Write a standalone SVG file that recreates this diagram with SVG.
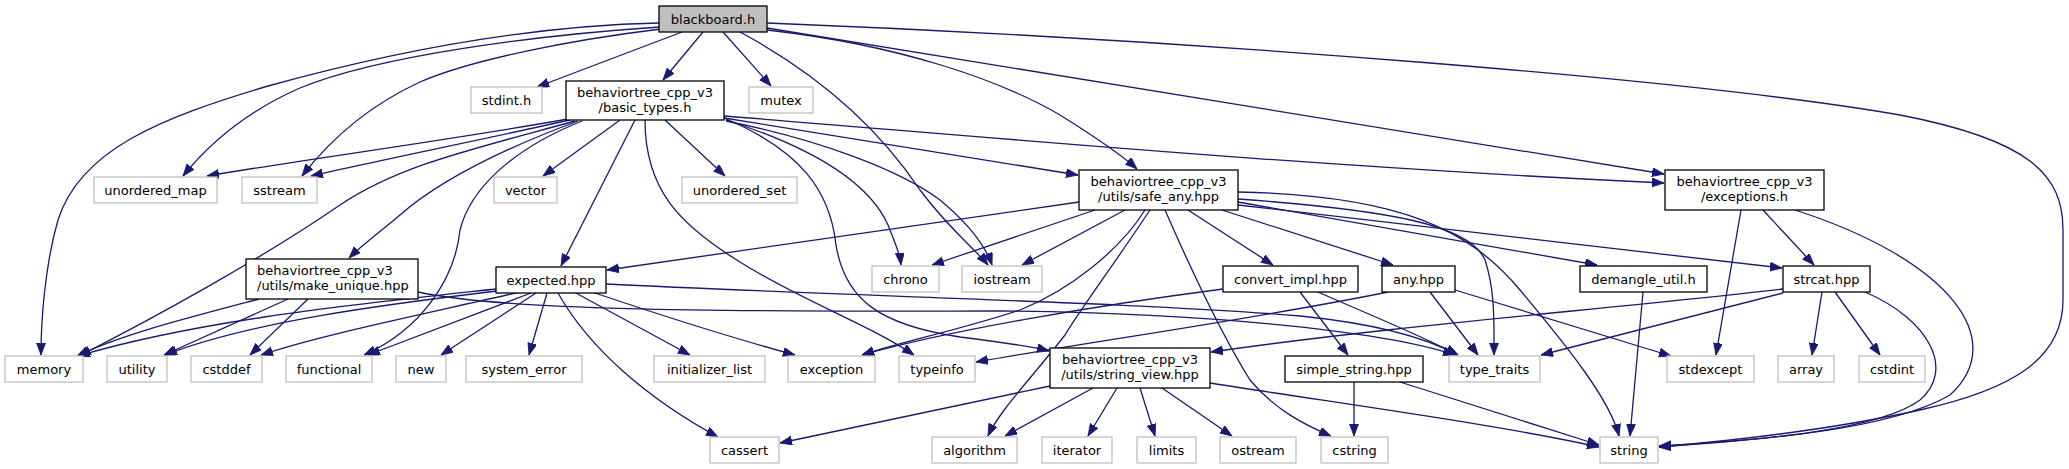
<svg xmlns="http://www.w3.org/2000/svg" width="2069" height="469" viewBox="0 0 2069 469">
<defs>
<marker id="arr" markerUnits="userSpaceOnUse" markerWidth="12" markerHeight="10" refX="12" refY="4.5" orient="auto">
<path d="M0,0 L12,4.5 L0,9 z" fill="#191970" stroke="#191970" stroke-width="0.8"/>
</marker>
</defs>
<style>
.e path{fill:none;stroke:#191970;stroke-width:1.3;marker-end:url(#arr)}
.n rect{fill:#ffffff;stroke:#000000;stroke-width:1.3}
.s rect{fill:#ffffff;stroke:#bfbfbf;stroke-width:1.3}
.m rect{fill:#bfbfbf;stroke:#000000;stroke-width:1.3}
text{font-family:"DejaVu Sans","Liberation Sans",sans-serif;font-size:13px;fill:#000000;text-anchor:middle}
text.l{text-anchor:start}
</style>
<rect x="0" y="0" width="2069" height="469" fill="#ffffff"/>
<g id="edges" class="e">
<!-- blackboard.h -->
<path d="M659,23 C 520,26 380,55 268,86 C 160,118 80,150 58,220 C 45,265 41,320 41,355"/>
<path d="M660,27 C 540,35 380,55 300,88 C 245,112 208,145 183,176"/>
<path d="M661,29 C 570,40 470,60 420,82 C 370,105 330,140 302,176"/>
<path d="M682,32 L537,87"/>
<path d="M703,32 L663,80"/>
<path d="M723,32 L771,86"/>
<path d="M740,32 C 820,75 880,130 920,190 C 950,230 976,250 988,265"/>
<path d="M767,30 C 900,45 1000,80 1060,115 C 1100,140 1125,158 1137,169"/>
<path d="M767,28 L1664,174"/>
<path d="M767,23 C 1200,40 1700,80 1900,115 C 2030,140 2063,175 2063,230 L2063,300 C 2063,360 2010,390 1920,410 C 1830,430 1740,440 1659,447"/>
<!-- basic_types.h -->
<path d="M568,119 C 450,140 300,160 207,176"/>
<path d="M570,120 C 480,140 380,160 311,176"/>
<path d="M575,121 C 470,150 400,165 340,205 C 260,260 150,320 79,356"/>
<path d="M578,121 C 500,150 440,180 400,215 C 380,232 362,245 349,258"/>
<path d="M582,121 C 510,150 470,190 460,230 C 455,280 420,330 364,355"/>
<path d="M620,120 L543,176"/>
<path d="M635,120 L561,266"/>
<path d="M645,120 C 645,190 680,225 740,262 C 800,300 870,325 914,355"/>
<path d="M665,120 L725,176"/>
<path d="M724,118 C 800,150 830,190 836,245 C 845,300 880,325 960,337 C 1000,342 1030,346 1049,351"/>
<path d="M726,120 C 820,150 870,185 888,225 C 896,245 900,255 901,265"/>
<path d="M726,121 C 820,140 900,170 940,200 C 970,225 985,245 992,265"/>
<path d="M724,118 L1078,175"/>
<path d="M724,116 C 1000,138 1300,166 1664,183"/>
<!-- make_unique.hpp -->
<path d="M259,299 C 180,320 120,335 77,356"/>
<path d="M288,299 L164,355"/>
<path d="M308,299 L250,355"/>
<path d="M418,292 C 500,310 700,312 1000,311 C 1200,313 1380,330 1455,355"/>
<!-- expected.hpp -->
<path d="M496,289 C 350,305 200,320 78,356"/>
<path d="M497,291 C 380,305 250,322 165,355"/>
<path d="M520,292 C 420,315 320,335 261,355"/>
<path d="M531,293 L368,355"/>
<path d="M536,293 L441,355"/>
<path d="M547,293 L529,355"/>
<path d="M574,292 L690,355"/>
<path d="M592,292 C 660,315 740,340 795,355"/>
<path d="M558,293 C 590,350 650,400 718,437"/>
<path d="M606,284 C 850,296 1150,303 1300,316 C 1380,324 1430,340 1458,355"/>
<!-- safe_any.hpp -->
<path d="M1079,202 L607,270"/>
<path d="M1095,210 L932,265"/>
<path d="M1125,210 L1022,265"/>
<path d="M1145,210 C 1120,250 1070,290 1020,310 C 960,330 900,342 862,355"/>
<path d="M1150,210 C 1110,270 1080,310 1065,335 C 1030,380 1000,410 988,436"/>
<path d="M1165,210 C 1200,290 1225,340 1250,380 C 1275,410 1305,425 1331,436"/>
<path d="M1188,210 L1273,265"/>
<path d="M1222,210 L1393,265"/>
<path d="M1238,192 C 1400,195 1470,230 1520,290 C 1570,350 1610,400 1619,436"/>
<path d="M1238,199 C 1390,210 1470,225 1485,260 C 1495,290 1494,320 1494,355"/>
<path d="M1238,202 L1597,265"/>
<path d="M1238,205 L1782,268"/>
<!-- convert_impl.hpp -->
<path d="M1223,289 C 1100,305 950,330 862,355"/>
<path d="M1300,292 L1348,355"/>
<path d="M1318,292 C 1370,315 1420,335 1458,355"/>
<!-- any.hpp -->
<path d="M1388,292 C 1250,320 1100,340 976,362"/>
<path d="M1430,292 L1478,355"/>
<path d="M1455,290 L1671,356"/>
<!-- demangle_util.h -->
<path d="M1643,292 L1630,436"/>
<!-- strcat.hpp -->
<path d="M1783,289 C 1600,310 1400,325 1211,352"/>
<path d="M1783,293 L1541,355"/>
<path d="M1822,292 L1812,355"/>
<path d="M1835,292 L1880,355"/>
<path d="M1865,292 C 1930,320 1955,370 1920,400 C 1880,430 1760,440 1659,447"/>
<!-- exceptions.h -->
<path d="M1741,210 L1716,355"/>
<path d="M1763,210 L1814,265"/>
<path d="M1795,210 C 1950,260 2010,340 1950,395 C 1890,430 1760,440 1659,446"/>
<!-- simple_string.hpp -->
<path d="M1354,382 L1354,436"/>
<path d="M1400,382 L1599,445"/>
<!-- string_view.hpp -->
<path d="M1050,386 L780,443"/>
<path d="M1093,388 L1005,436"/>
<path d="M1117,388 L1088,436"/>
<path d="M1140,388 L1155,436"/>
<path d="M1162,388 L1232,436"/>
<path d="M1210,383 C 1350,405 1500,425 1599,447"/>
</g>
<g id="node-blackboard" class="m"><rect x="659" y="6" width="108" height="26"/><text x="713" y="23.5">blackboard.h</text></g>
<g id="node-stdint" class="s"><rect x="471" y="87" width="71" height="26"/><text x="506.5" y="104.5">stdint.h</text></g>
<g id="node-mutex" class="s"><rect x="749" y="87" width="64" height="26"/><text x="781" y="104.5">mutex</text></g>
<g id="node-basic_types" class="n"><rect x="566" y="81" width="158" height="39"/><text x="645" y="97">behaviortree_cpp_v3</text><text x="645" y="112">/basic_types.h</text></g>
<g id="node-unordered_map" class="s"><rect x="94" y="177" width="123" height="26"/><text x="155.5" y="194.5">unordered_map</text></g>
<g id="node-sstream" class="s"><rect x="242" y="177" width="75" height="26"/><text x="279.5" y="194.5">sstream</text></g>
<g id="node-vector" class="s"><rect x="494" y="177" width="63" height="26"/><text x="525.5" y="194.5">vector</text></g>
<g id="node-unordered_set" class="s"><rect x="682" y="177" width="115" height="26"/><text x="739.5" y="194.5">unordered_set</text></g>
<g id="node-safe_any" class="n"><rect x="1079" y="170" width="159" height="40"/><text x="1158.5" y="186">behaviortree_cpp_v3</text><text x="1158.5" y="201">/utils/safe_any.hpp</text></g>
<g id="node-exceptions" class="n"><rect x="1665" y="170" width="159" height="40"/><text x="1744.5" y="186">behaviortree_cpp_v3</text><text x="1744.5" y="201">/exceptions.h</text></g>
<g id="node-make_unique" class="n"><rect x="246" y="259" width="172" height="40"/><text class="l" x="257" y="275">behaviortree_cpp_v3</text><text class="l" x="257" y="290">/utils/make_unique.hpp</text></g>
<g id="node-expected" class="n"><rect x="496" y="267" width="110" height="26"/><text x="551" y="284.5">expected.hpp</text></g>
<g id="node-chrono" class="s"><rect x="872" y="266" width="67" height="26"/><text x="905.5" y="283.5">chrono</text></g>
<g id="node-iostream" class="s"><rect x="962" y="266" width="80" height="26"/><text x="1002" y="283.5">iostream</text></g>
<g id="node-convert_impl" class="n"><rect x="1223" y="266" width="135" height="26"/><text x="1290.5" y="283.5">convert_impl.hpp</text></g>
<g id="node-any" class="n"><rect x="1382" y="266" width="73" height="26"/><text x="1418.5" y="283.5">any.hpp</text></g>
<g id="node-demangle_util" class="n"><rect x="1580" y="266" width="127" height="26"/><text x="1643.5" y="283.5">demangle_util.h</text></g>
<g id="node-strcat" class="n"><rect x="1783" y="266" width="87" height="26"/><text x="1826.5" y="283.5">strcat.hpp</text></g>
<g id="node-memory" class="s"><rect x="5" y="356" width="78" height="26"/><text x="44" y="373.5">memory</text></g>
<g id="node-utility" class="s"><rect x="107" y="356" width="60" height="26"/><text x="137" y="373.5">utility</text></g>
<g id="node-cstddef" class="s"><rect x="191" y="356" width="71" height="26"/><text x="226.5" y="373.5">cstddef</text></g>
<g id="node-functional" class="s"><rect x="286" y="356" width="86" height="26"/><text x="329" y="373.5">functional</text></g>
<g id="node-new" class="s"><rect x="396" y="356" width="50" height="26"/><text x="421" y="373.5">new</text></g>
<g id="node-system_error" class="s"><rect x="466" y="356" width="116" height="26"/><text x="524" y="373.5">system_error</text></g>
<g id="node-initializer_list" class="s"><rect x="654" y="356" width="111" height="26"/><text x="709.5" y="373.5">initializer_list</text></g>
<g id="node-exception" class="s"><rect x="788" y="356" width="87" height="26"/><text x="831.5" y="373.5">exception</text></g>
<g id="node-typeinfo" class="s"><rect x="899" y="356" width="76" height="26"/><text x="937" y="373.5">typeinfo</text></g>
<g id="node-string_view" class="n"><rect x="1050" y="348" width="160" height="40"/><text x="1130" y="364">behaviortree_cpp_v3</text><text x="1130" y="379">/utils/string_view.hpp</text></g>
<g id="node-simple_string" class="n"><rect x="1285" y="356" width="138" height="26"/><text x="1354" y="373.5">simple_string.hpp</text></g>
<g id="node-type_traits" class="s"><rect x="1449" y="356" width="91" height="26"/><text x="1494.5" y="373.5">type_traits</text></g>
<g id="node-stdexcept" class="s"><rect x="1667" y="356" width="87" height="26"/><text x="1710.5" y="373.5">stdexcept</text></g>
<g id="node-array" class="s"><rect x="1778" y="356" width="56" height="26"/><text x="1806" y="373.5">array</text></g>
<g id="node-cstdint" class="s"><rect x="1859" y="356" width="66" height="26"/><text x="1892" y="373.5">cstdint</text></g>
<g id="node-cassert" class="s"><rect x="710" y="437" width="69" height="26"/><text x="744.5" y="454.5">cassert</text></g>
<g id="node-algorithm" class="s"><rect x="932" y="437" width="85" height="26"/><text x="974.5" y="454.5">algorithm</text></g>
<g id="node-iterator" class="s"><rect x="1042" y="437" width="70" height="26"/><text x="1077" y="454.5">iterator</text></g>
<g id="node-limits" class="s"><rect x="1137" y="437" width="59" height="26"/><text x="1166.5" y="454.5">limits</text></g>
<g id="node-ostream" class="s"><rect x="1220" y="437" width="76" height="26"/><text x="1258" y="454.5">ostream</text></g>
<g id="node-cstring" class="s"><rect x="1321" y="437" width="67" height="26"/><text x="1354.5" y="454.5">cstring</text></g>
<g id="node-string" class="s"><rect x="1600" y="437" width="58" height="26"/><text x="1629" y="454.5">string</text></g>
</svg>
